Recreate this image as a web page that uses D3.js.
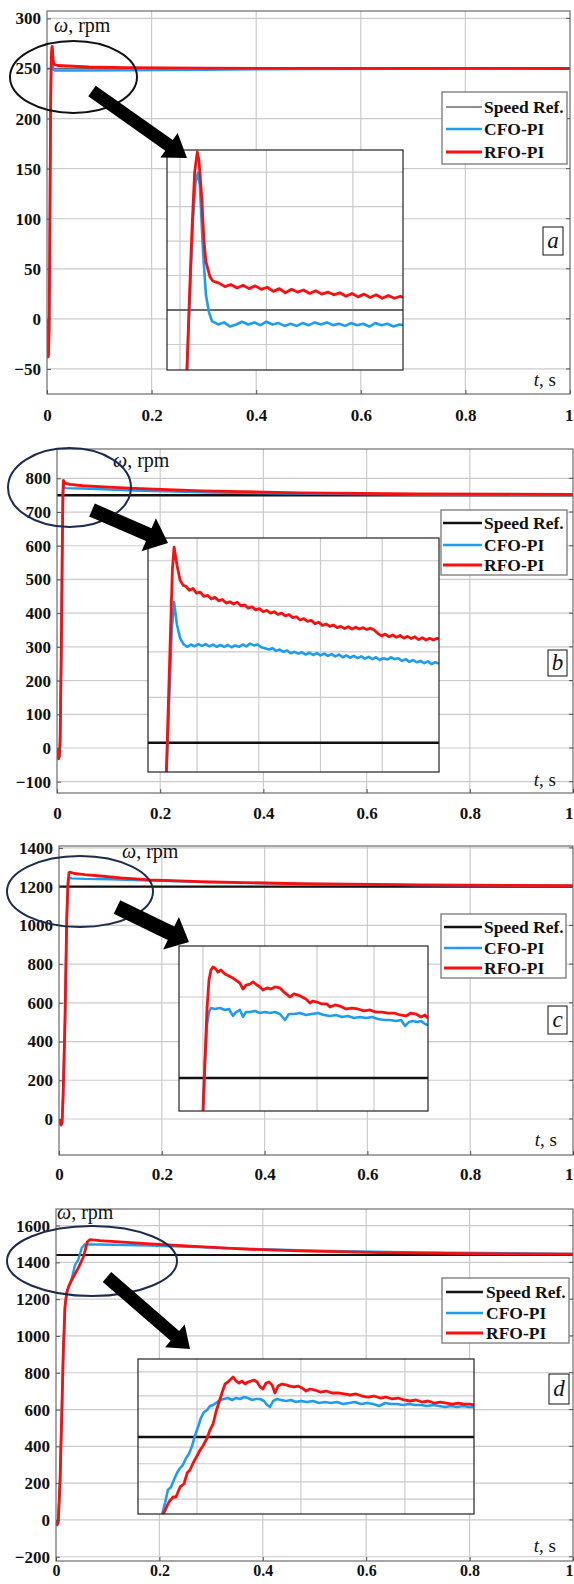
<!DOCTYPE html>
<html>
<head>
<meta charset="utf-8">
<script src="https://cdn.jsdelivr.net/npm/d3@7"></script>
<style>
  body { margin: 0; background: #fff; }
  svg text { font-family: "Liberation Serif", "Times New Roman", serif; }
</style>
</head>
<body>
<div id="viz"></div>
<script>
// Setting up constants
const F_WIDTH = 574;
const F_HEIGHT = 1584;

const TIME_TICKS = [0, 0.2, 0.4, 0.6, 0.8, 1];
const TIME_LABELS = ["0", "0.2", "0.4", "0.6", "0.8", "1"];
const SERIES = ["Speed Ref.", "CFO-PI", "RFO-PI"];
const TAGS = ["a", "b", "c", "d"];

// ---- panel a (250 rpm) ----
const refA = 250;
const yTicksA = [-50, 0, 50, 100, 150, 200, 250, 300];
const cfoA = [[0,0],[0.001,-21],[0.002,-37],[0.003,-34],[0.004,-11],[0.005,56],[0.006,142],[0.007,218],[0.008,252],[0.009,266],[0.010,269],[0.011,258],[0.012,249],[0.014,248],[0.05,248],[0.15,248.3],[0.3,248.8],[0.5,249.4],[0.7,249.8],[1,250]];
const rfoA = [[0,0],[0.001,-22],[0.002,-38],[0.003,-35],[0.004,-12],[0.005,55],[0.006,140],[0.007,215],[0.008,255],[0.009,270],[0.010,272],[0.011,264],[0.012,257],[0.014,254],[0.02,253],[0.04,252.5],[0.08,251.5],[0.15,250.8],[0.3,250.3],[0.5,250.1],[1,250]];
const zoomGridTA = [0.008, 0.018, 0.028];
const zoomGridYA = [245, 255, 260, 265, 270];
const zoomCfoA = [[0.0086,240],[0.0088,241],[0.0092,254],[0.0095,263],[0.0098,268.5],[0.01008,269.9],[0.0103,268.1],[0.01066,258.7],[0.0110,252.2],[0.01135,249.7],[0.0117,248.4],[0.0124,247.9],[0.0131,248.2],[0.0138,247.6],[0.0145,247.9],[0.0152,248.3],[0.0159,247.9],[0.0166,248.2],[0.0173,247.8],[0.0180,248.3],[0.0187,247.9],[0.0194,248.1],[0.0201,247.7],[0.0208,248.0],[0.0215,247.7],[0.0222,248.1],[0.0229,247.8],[0.0236,248.2],[0.0243,247.9],[0.0250,248.2],[0.0257,247.8],[0.0264,248.0],[0.0271,247.7],[0.0278,248.1],[0.0285,247.8],[0.0292,248.0],[0.0299,247.6],[0.0306,248.1],[0.0313,247.8],[0.0320,248.0],[0.0327,247.6],[0.0334,247.9],[0.0338,247.8]];
const zoomRfoA = [[0.0086,240],[0.0088,241],[0.0091,252],[0.0094,262],[0.0097,270],[0.0100,272.9],[0.0102,271.7],[0.01054,265.9],[0.01077,260.1],[0.0110,257.0],[0.01147,254.8],[0.0118,254.2],[0.0125,253.9],[0.0132,253.4],[0.0139,253.7],[0.0146,253.2],[0.0153,253.6],[0.0160,253.1],[0.0167,253.5],[0.0174,253.0],[0.0181,253.3],[0.0188,252.7],[0.0195,253.1],[0.0202,252.5],[0.0209,253.0],[0.0216,252.6],[0.0223,252.9],[0.0230,252.4],[0.0237,252.8],[0.0244,252.3],[0.0251,252.6],[0.0258,252.2],[0.0265,252.5],[0.0272,252.0],[0.0279,252.4],[0.0286,251.9],[0.0293,252.3],[0.0300,251.8],[0.0307,252.2],[0.0314,251.7],[0.0321,252.1],[0.0328,251.7],[0.0335,252.0],[0.0338,251.8]];

// ---- panel b (750 rpm) ----
const refB = 750;
const yTicksB = [-100, 0, 100, 200, 300, 400, 500, 600, 700, 800];
const cfoB = [[0,0],[0.0015,-24],[0.003,-31],[0.0045,-24],[0.006,21],[0.008,250],[0.010,560],[0.0115,740],[0.0125,781],[0.0145,773],[0.017,771],[0.05,770],[0.1,767],[0.15,764],[0.3,758],[0.5,754],[0.7,752],[1,751]];
const rfoB = [[0,0],[0.0015,-25],[0.003,-32],[0.0045,-25],[0.006,20],[0.008,250],[0.010,560],[0.0115,760],[0.0125,794],[0.015,786],[0.025,782],[0.05,778],[0.1,774],[0.15,770],[0.28,763],[0.47,757],[0.7,754],[1,752]];
const zoomGridTB = [0.02, 0.04, 0.06, 0.08];
const zoomGridYB = [760, 770, 780, 790];
const zoomCfoB = [[0.0099,740],[0.0118,775],[0.01255,780.9],[0.0135,775.9],[0.0145,773.0],[0.0157,771.6],[0.0168,771.1],[0.0180,771.6],[0.0192,771.2],[0.0204,771.7],[0.0216,771.3],[0.0228,771.7],[0.0240,771.2],[0.0252,771.6],[0.0264,771.1],[0.0276,771.5],[0.0288,771.1],[0.0300,771.5],[0.0312,771.0],[0.0324,771.4],[0.0336,771.1],[0.0348,771.6],[0.0360,771.2],[0.0372,771.8],[0.0384,771.4],[0.0396,771.6],[0.0408,771.0],[0.0420,770.8],[0.0432,770.5],[0.0444,770.8],[0.0456,770.2],[0.0468,770.5],[0.0480,770.0],[0.0492,770.3],[0.0504,769.7],[0.0516,770.0],[0.0528,769.6],[0.0540,769.9],[0.0552,769.4],[0.0564,769.8],[0.0576,769.3],[0.0588,769.7],[0.0600,769.2],[0.0612,769.6],[0.0624,769.1],[0.0636,769.5],[0.0648,769.0],[0.0660,769.4],[0.0672,768.8],[0.0684,769.2],[0.0696,768.7],[0.0708,769.1],[0.0720,768.6],[0.0732,769.0],[0.0744,768.5],[0.0756,768.9],[0.0768,768.4],[0.0780,768.8],[0.0792,768.2],[0.0804,768.6],[0.0816,768.3],[0.0828,768.8],[0.0840,768.4],[0.0852,768.6],[0.0864,768.0],[0.0876,768.4],[0.0888,767.8],[0.0900,768.2],[0.0912,767.7],[0.0924,768.0],[0.0936,767.5],[0.0948,767.9],[0.0960,767.3],[0.0972,767.7],[0.0984,767.4]];
const zoomRfoB = [[0.0099,740],[0.0112,770],[0.0120,788],[0.01255,793],[0.0135,789],[0.0145,785.7],[0.0155,784.6],[0.0164,784.4],[0.0175,783.5],[0.0187,783.9],[0.0198,782.9],[0.0210,783.1],[0.0222,782.2],[0.0234,782.4],[0.0246,781.6],[0.0258,782.0],[0.0270,781.2],[0.0282,781.5],[0.0294,780.7],[0.0306,781.0],[0.0318,780.5],[0.0330,780.9],[0.0342,780.1],[0.0354,780.3],[0.0366,779.6],[0.0378,779.9],[0.0390,779.2],[0.0402,779.5],[0.0414,778.8],[0.0426,779.1],[0.0438,778.5],[0.0450,778.8],[0.0462,778.2],[0.0474,778.5],[0.0486,777.9],[0.0498,778.2],[0.0510,777.5],[0.0522,777.7],[0.0534,777.0],[0.0546,777.3],[0.0558,776.7],[0.0570,776.9],[0.0582,776.2],[0.0594,776.5],[0.0606,775.8],[0.0618,776.1],[0.0630,775.6],[0.0642,775.9],[0.0654,775.3],[0.0666,775.6],[0.0678,775.1],[0.0690,775.5],[0.0702,775.0],[0.0714,775.4],[0.0726,775.0],[0.0738,775.3],[0.0750,774.9],[0.0762,775.2],[0.0774,774.8],[0.0786,774.0],[0.0798,773.5],[0.0810,773.9],[0.0822,773.3],[0.0834,773.7],[0.0846,773.2],[0.0858,773.6],[0.0870,773.0],[0.0882,773.4],[0.0894,772.9],[0.0906,773.3],[0.0918,772.7],[0.0930,773.1],[0.0942,772.6],[0.0954,773.0],[0.0966,772.6],[0.0978,773.0],[0.0984,772.8]];

// ---- panel c (1200 rpm) ----
const refC = 1200;
const yTicksC = [0, 200, 400, 600, 800, 1000, 1200, 1400];
const cfoC = [[0,0],[0.002,-21],[0.004,-30],[0.006,-17],[0.008,121],[0.0117,512],[0.015,1028],[0.0175,1215],[0.0195,1245],[0.025,1243],[0.05,1240],[0.1,1238],[0.18,1232],[0.3,1222],[0.5,1213],[0.7,1208],[1,1204]];
const rfoC = [[0,0],[0.002,-22],[0.004,-31],[0.006,-18],[0.008,120],[0.0117,511],[0.015,1028],[0.0175,1220],[0.0195,1272],[0.021,1275],[0.03,1268],[0.05,1262],[0.08,1255],[0.12,1245],[0.177,1235],[0.274,1226],[0.47,1215],[0.7,1209],[1,1205]];
const zoomGridTC = [0.025, 0.075, 0.125, 0.175];
const zoomGridYC = [1250];
const zoomCfoC = [[0.025,1178],[0.0268,1211],[0.0285,1232.7],[0.0303,1240.7],[0.032,1243.2],[0.0355,1242.6],[0.0399,1243.2],[0.0443,1242],[0.0478,1242.6],[0.0513,1238.3],[0.054,1240.7],[0.0574,1242],[0.0601,1237.7],[0.0627,1240.7],[0.0662,1240.7],[0.0706,1241.4],[0.075,1240.1],[0.0794,1240.7],[0.0838,1240.1],[0.0881,1240.7],[0.0925,1239.5],[0.0969,1235.8],[0.1004,1239.5],[0.1048,1239.5],[0.1101,1240.1],[0.1153,1238.9],[0.1206,1239.5],[0.1259,1240.1],[0.1311,1238.9],[0.1364,1238.3],[0.1417,1238.9],[0.1469,1237.7],[0.1522,1238.3],[0.1574,1237],[0.1627,1237.7],[0.168,1237],[0.1732,1237.7],[0.1785,1236.4],[0.1838,1235.8],[0.189,1235.8],[0.1943,1235.2],[0.1987,1235.8],[0.2022,1232.1],[0.2057,1234.6],[0.2092,1235.2],[0.2127,1234.6],[0.2162,1235.2],[0.2197,1233.3],[0.2223,1232.7]];
const zoomRfoC = [[0.025,1178],[0.0268,1211.1],[0.0285,1242],[0.0303,1260.5],[0.032,1266.7],[0.0338,1268.5],[0.0355,1267.9],[0.0382,1265.4],[0.0408,1266.7],[0.0443,1264.2],[0.0478,1263],[0.0513,1261.7],[0.0548,1259.9],[0.0574,1258.6],[0.0601,1254.9],[0.0627,1257.4],[0.0662,1258],[0.0689,1259.3],[0.0724,1257.4],[0.075,1256.2],[0.0776,1254.3],[0.0811,1255.6],[0.0846,1254.9],[0.0881,1256.2],[0.0925,1255.6],[0.0969,1252.5],[0.1013,1250],[0.1048,1251.9],[0.1083,1251.2],[0.1118,1250],[0.1153,1248.8],[0.1188,1246.3],[0.1215,1247.5],[0.125,1246.9],[0.1294,1245.7],[0.1337,1245.7],[0.1364,1243.8],[0.1408,1245.1],[0.1451,1244.4],[0.1504,1242.6],[0.1557,1243.2],[0.1609,1242.6],[0.1662,1241.4],[0.1715,1242],[0.1767,1240.7],[0.182,1240.7],[0.1873,1240.1],[0.1925,1240.1],[0.1978,1238.9],[0.203,1238.3],[0.2074,1240.1],[0.2118,1239.5],[0.2162,1237.7],[0.2197,1238.9],[0.2223,1237]];

// ---- panel d (1440 rpm) ----
const refD = 1440;
const yTicksD = [-200, 0, 200, 400, 600, 800, 1000, 1200, 1400, 1600];
const cfoD = [[0,0],[0.002,-27],[0.004,-15],[0.0045,0],[0.0077,201],[0.011,560],[0.0142,924],[0.0174,1158],[0.0206,1234],[0.025,1272],[0.0303,1310],[0.0368,1386],[0.043,1413],[0.0497,1478],[0.056,1498],[0.085,1497],[0.182,1492],[0.3,1480],[0.5,1464],[0.7,1454],[1,1446]];
const rfoD = [[0,0],[0.002,-27],[0.004,-15],[0.0045,0],[0.0077,201],[0.011,560],[0.0142,924],[0.0174,1158],[0.0206,1234],[0.025,1272],[0.0303,1304],[0.0432,1370],[0.0529,1429],[0.0606,1512],[0.0658,1523],[0.085,1518],[0.182,1500],[0.278,1485],[0.375,1471],[0.472,1462],[0.627,1453],[0.8,1448],[1,1444]];
const zoomGridTD = [0.05, 0.09, 0.13];
const zoomGridYD = [1354, 1378, 1403, 1426, 1479, 1497, 1530];
const zoomCfoD = [[0.0365,1332],[0.0377,1348.7],[0.0388,1366.7],[0.04,1370.9],[0.0411,1380.5],[0.0423,1390.2],[0.0435,1397.1],[0.0446,1401.3],[0.0458,1411],[0.0469,1416.5],[0.0481,1427.6],[0.0492,1441.4],[0.0504,1453.8],[0.0515,1466.3],[0.0527,1474.6],[0.0539,1477.3],[0.055,1482.9],[0.0562,1484.3],[0.0573,1487],[0.0589,1491.2],[0.0604,1492.6],[0.0619,1493.9],[0.0635,1491.2],[0.065,1493.9],[0.0666,1492.6],[0.0681,1495.3],[0.0696,1493.9],[0.0712,1491.2],[0.0727,1492.6],[0.0743,1492.6],[0.0758,1489.8],[0.077,1484.3],[0.0781,1481.5],[0.0793,1489.8],[0.0808,1492.6],[0.0823,1491.2],[0.0843,1489.8],[0.0862,1491.2],[0.0881,1488.4],[0.09,1489.8],[0.0924,1488.4],[0.0947,1489.8],[0.097,1487],[0.0993,1488.4],[0.1016,1487],[0.1039,1488.4],[0.1062,1485.6],[0.1085,1487],[0.1108,1488.4],[0.1131,1485.6],[0.1155,1487],[0.1178,1485.6],[0.1201,1482.9],[0.1224,1487],[0.1247,1485.6],[0.127,1485.6],[0.1293,1484.3],[0.1316,1485.6],[0.1339,1484.3],[0.1362,1484.3],[0.1386,1482.9],[0.1409,1484.3],[0.1432,1482.9],[0.1455,1481.5],[0.1478,1482.9],[0.1501,1481.5],[0.1524,1482.9],[0.1547,1481.5],[0.1566,1481.5]];
const zoomRfoD = [[0.0369,1332],[0.0381,1341.8],[0.0392,1350.1],[0.0408,1357],[0.0419,1357],[0.0435,1370.9],[0.045,1375],[0.0462,1390.2],[0.0473,1394.4],[0.0485,1404],[0.05,1413.7],[0.0512,1422],[0.0523,1427.6],[0.0539,1438.6],[0.055,1449.7],[0.0562,1458],[0.0573,1474.6],[0.0585,1488.4],[0.0596,1500.9],[0.0608,1513.3],[0.0619,1516.1],[0.0631,1520.2],[0.0639,1523],[0.065,1517.4],[0.0662,1514.7],[0.0673,1517.4],[0.0685,1513.3],[0.0696,1516.1],[0.0708,1517.4],[0.0719,1518.8],[0.0731,1516.1],[0.0743,1509.2],[0.0754,1506.4],[0.0766,1514.7],[0.0777,1516.1],[0.0789,1512],[0.08,1500.9],[0.0812,1510.5],[0.0827,1513.3],[0.0843,1512],[0.0858,1510.5],[0.0873,1509.2],[0.0889,1510.5],[0.0904,1507.8],[0.092,1503.6],[0.0935,1506.4],[0.0954,1505],[0.0974,1502.2],[0.0997,1503.6],[0.102,1500.9],[0.1043,1500.9],[0.1066,1499.5],[0.1089,1498.1],[0.1112,1499.5],[0.1135,1496.7],[0.1158,1495.3],[0.1181,1496.7],[0.1205,1493.9],[0.1228,1495.3],[0.1251,1492.6],[0.1274,1493.9],[0.1297,1491.2],[0.132,1489.8],[0.1343,1491.2],[0.1366,1488.4],[0.1389,1489.8],[0.1412,1487],[0.1436,1488.4],[0.1459,1487],[0.1482,1485.6],[0.1505,1487],[0.1528,1485.6],[0.1551,1485.6],[0.1566,1484.3]];

// colours
const RED = "#f81010";
const BLUE = "#1e9cf2";
const GRID = "#cbcbcb";
const NAVY = "#1c2b4f";

// layout of each panel (pixel positions only)
const PANELS = [
  { tag: TAGS[0], ref: refA, yTicks: yTicksA, cfo: cfoA, rfo: rfoA, refColor: "#6a6a6a", refWidth: 1.6,
    plot: {x0: 47, x1: 570, y0: 11, y1: 394}, yDomain: [-75, 307.4], xPad: 15, xFont: 17,
    ellipse: {cx: 73.5, cy: 77, rx: 63.5, ry: 36, color: "#111"},
    arrow: {from: [92, 91], to: [187, 158], shaft: 13, headW: 30, headL: 22},
    zoom: {x0: 167, x1: 403, y0: 150, y1: 370, xDomain: [0.0065, 0.0338], yDomain: [241.3, 273.2],
           gridT: zoomGridTA, gridY: zoomGridYA, cfo: zoomCfoA, rfo: zoomRfoA},
    legend: {x0: 442, y0: 92, w: 125, h: 72, rows: [107, 129, 152], l0: 446, l1: 482, tx: 484},
    box: {x: 543, y: 227, w: 20, h: 28}, tLab: {x: 556, y: 386}, wLab: {x: 54, y: 32} },
  { tag: TAGS[1], ref: refB, yTicks: yTicksB, cfo: cfoB, rfo: rfoB, refColor: "#111", refWidth: 2.5,
    plot: {x0: 57, x1: 573, y0: 449, y1: 793}, yDomain: [-133.5, 887], xPad: 14, xFont: 17,
    ellipse: {cx: 69.5, cy: 487.5, rx: 61.5, ry: 39.5, color: NAVY},
    arrow: {from: [92, 510], to: [168, 543], shaft: 14, headW: 36, headL: 21},
    zoom: {x0: 148, x1: 439, y0: 538, y1: 772, xDomain: [0.0041, 0.0984], yDomain: [743.6, 795],
           gridT: zoomGridTB, gridY: zoomGridYB, cfo: zoomCfoB, rfo: zoomRfoB},
    legend: {x0: 441, y0: 510, w: 126, h: 65, rows: [523, 545, 565], l0: 443, l1: 482, tx: 484},
    box: {x: 548, y: 650, w: 19, h: 26}, tLab: {x: 556, y: 786}, wLab: {x: 113, y: 467} },
  { tag: TAGS[2], ref: refC, yTicks: yTicksC, cfo: cfoC, rfo: rfoC, refColor: "#111", refWidth: 2.2,
    plot: {x0: 59, x1: 573, y0: 846, y1: 1155}, yDomain: [-186, 1410], xPad: 13, xFont: 17,
    ellipse: {cx: 80, cy: 891.5, rx: 73, ry: 35.5, color: NAVY},
    arrow: {from: [117, 907], to: [189, 942], shaft: 15, headW: 36, headL: 20},
    zoom: {x0: 179, x1: 428, y0: 946, y1: 1111, xDomain: [0.004, 0.2223], yDomain: [1179.6, 1281.5],
           gridT: zoomGridTC, gridY: zoomGridYC, cfo: zoomCfoC, rfo: zoomRfoC},
    legend: {x0: 441, y0: 914, w: 125, h: 64, rows: [927, 948, 968], l0: 444, l1: 482, tx: 484},
    box: {x: 548, y: 1006, w: 19, h: 28}, tLab: {x: 557, y: 1146}, wLab: {x: 122, y: 858} },
  { tag: TAGS[3], ref: refD, yTicks: yTicksD, cfo: cfoD, rfo: rfoD, refColor: "#111", refWidth: 2.2,
    plot: {x0: 56, x1: 573, y0: 1209, y1: 1561}, yDomain: [-223, 1690], xPad: 4, xFont: 16,
    ellipse: {cx: 92, cy: 1261, rx: 85, ry: 35, color: NAVY},
    arrow: {from: [107, 1277], to: [190, 1349], shaft: 13, headW: 30, headL: 20},
    zoom: {x0: 138, x1: 474, y0: 1359, y1: 1514, xDomain: [0.0273, 0.1566], yDomain: [1333.5, 1547.9],
           gridT: zoomGridTD, gridY: zoomGridYD, cfo: zoomCfoD, rfo: zoomRfoD},
    legend: {x0: 442, y0: 1278, w: 127, h: 65, rows: [1292, 1313, 1333], l0: 446, l1: 483, tx: 486},
    box: {x: 549, y: 1374, w: 20, h: 30}, tLab: {x: 556, y: 1552}, wLab: {x: 57, y: 1219} }
];

const FRAME = d3.select("#viz")
  .append("svg")
    .attr("width", F_WIDTH)
    .attr("height", F_HEIGHT);

FRAME.append("rect").attr("width", F_WIDTH).attr("height", F_HEIGHT).attr("fill", "#fff");

const defs = FRAME.append("defs");

// arrow outline from a tail point to a tip
function arrowPoints(a) {
  const [x0, y0] = a.from, [x1, y1] = a.to;
  const len = Math.hypot(x1 - x0, y1 - y0);
  const ux = (x1 - x0) / len, uy = (y1 - y0) / len;
  const px = -uy, py = ux;
  const bx = x1 - ux * a.headL, by = y1 - uy * a.headL;
  const s = a.shaft / 2, h = a.headW / 2;
  return [[x0 + px * s, y0 + py * s], [bx + px * s, by + py * s], [bx + px * h, by + py * h],
          [x1, y1], [bx - px * h, by - py * h], [bx - px * s, by - py * s], [x0 - px * s, y0 - py * s]];
}

function drawPanel(p, i) {
  const P = p.plot;
  const X_SCALE = d3.scaleLinear().domain([0, 1]).range([P.x0, P.x1]);
  const Y_SCALE = d3.scaleLinear().domain(p.yDomain).range([P.y1, P.y0]);
  const g = FRAME.append("g");

  // grid
  g.append("g").selectAll("line").data(TIME_TICKS.slice(1, -1)).join("line")
    .attr("x1", d => X_SCALE(d)).attr("x2", d => X_SCALE(d))
    .attr("y1", P.y0).attr("y2", P.y1)
    .attr("stroke", GRID).attr("stroke-width", 1.2);
  g.append("g").selectAll("line").data(p.yTicks).join("line")
    .attr("x1", P.x0).attr("x2", P.x1)
    .attr("y1", d => Y_SCALE(d)).attr("y2", d => Y_SCALE(d))
    .attr("stroke", GRID).attr("stroke-width", 1.2);

  // clipped traces
  const clipId = "clip" + i;
  defs.append("clipPath").attr("id", clipId).append("rect")
    .attr("x", P.x0).attr("y", P.y0).attr("width", P.x1 - P.x0).attr("height", P.y1 - P.y0);
  const lines = g.append("g").attr("clip-path", `url(#${clipId})`);
  const line = d3.line().x(d => X_SCALE(d[0])).y(d => Y_SCALE(d[1]));

  lines.append("line")
    .attr("x1", X_SCALE(0)).attr("x2", X_SCALE(1))
    .attr("y1", Y_SCALE(p.ref)).attr("y2", Y_SCALE(p.ref))
    .attr("stroke", p.refColor).attr("stroke-width", p.refWidth);
  lines.append("path").datum(p.cfo).attr("d", line)
    .attr("fill", "none").attr("stroke", BLUE).attr("stroke-width", 2.4).attr("stroke-linejoin", "round");
  lines.append("path").datum(p.rfo).attr("d", line)
    .attr("fill", "none").attr("stroke", RED).attr("stroke-width", 2.8).attr("stroke-linejoin", "round");

  // border
  g.append("rect")
    .attr("x", P.x0).attr("y", P.y0).attr("width", P.x1 - P.x0).attr("height", P.y1 - P.y0)
    .attr("fill", "none").attr("stroke", "#6c6c6c").attr("stroke-width", 1.2);

  // axes
  const xAxis = g.append("g")
    .attr("transform", `translate(0,${P.y1})`)
    .call(d3.axisBottom(X_SCALE).tickValues(TIME_TICKS).tickFormat((d, k) => TIME_LABELS[k])
      .tickSizeInner(-4).tickSizeOuter(0).tickPadding(p.xPad));
  const yAxis = g.append("g")
    .attr("transform", `translate(${P.x0},0)`)
    .call(d3.axisLeft(Y_SCALE).tickValues(p.yTicks).tickFormat(d3.format("d"))
      .tickSizeInner(-4).tickSizeOuter(0).tickPadding(6));
  [xAxis, yAxis].forEach(ax => {
    ax.select(".domain").remove();
    ax.selectAll(".tick line").attr("stroke", "#555");
    ax.selectAll("text")
      .attr("fill", "#111")
      .style("font-size", "17px")
      .style("font-weight", "bold")
      .style("font-family", "'Liberation Serif', 'Times New Roman', serif");
  });
  xAxis.selectAll(".tick text").style("font-size", p.xFont + "px");
  // last time label sits against the page edge
  xAxis.selectAll(".tick text").filter(d => d === 1).attr("text-anchor", "end").attr("x", F_WIDTH - P.x1 - 1);

  // right-side ticks
  g.append("g").selectAll("line").data(p.yTicks).join("line")
    .attr("x1", P.x1 - 4).attr("x2", P.x1)
    .attr("y1", d => Y_SCALE(d)).attr("y2", d => Y_SCALE(d))
    .attr("stroke", "#555");

  // axis captions
  const w = g.append("text").attr("x", p.wLab.x).attr("y", p.wLab.y)
    .style("font-size", "20px").attr("fill", "#111");
  w.append("tspan").style("font-style", "italic").text("ω");
  w.append("tspan").text(", rpm");
  const t = g.append("text").attr("x", p.tLab.x).attr("y", p.tLab.y)
    .attr("text-anchor", "end").style("font-size", "19px").attr("fill", "#111");
  t.append("tspan").style("font-style", "italic").text("t");
  t.append("tspan").text(", s");

  // ellipse
  g.append("ellipse")
    .attr("cx", p.ellipse.cx).attr("cy", p.ellipse.cy)
    .attr("rx", p.ellipse.rx).attr("ry", p.ellipse.ry)
    .attr("fill", "none").attr("stroke", p.ellipse.color).attr("stroke-width", 2);

  // legend
  const L = p.legend;
  g.append("rect").attr("x", L.x0).attr("y", L.y0).attr("width", L.w).attr("height", L.h)
    .attr("fill", "#fff").attr("stroke", "#808080").attr("stroke-width", 1.4);
  const legColors = [p.refColor, BLUE, RED];
  const legWidths = [i === 0 ? 1.6 : 2.6, 2.4, 2.8];
  SERIES.forEach((s, k) => {
    g.append("line").attr("x1", L.l0).attr("x2", L.l1)
      .attr("y1", L.rows[k]).attr("y2", L.rows[k])
      .attr("stroke", legColors[k]).attr("stroke-width", legWidths[k]);
    g.append("text").attr("x", L.tx).attr("y", L.rows[k] + 6)
      .style("font-size", "17.5px").style("font-weight", "bold").attr("fill", "#111")
      .text(s);
  });

  // panel letter
  g.append("rect").attr("x", p.box.x).attr("y", p.box.y).attr("width", p.box.w).attr("height", p.box.h)
    .attr("fill", "#fff").attr("stroke", "#111").attr("stroke-width", 1);
  g.append("text").attr("x", p.box.x + p.box.w / 2).attr("y", p.box.y + p.box.h / 2 + 7)
    .attr("text-anchor", "middle").style("font-size", "23px").style("font-style", "italic")
    .attr("fill", "#111").text(p.tag);

  // zoomed inset
  const Z = p.zoom;
  const ZX = d3.scaleLinear().domain(Z.xDomain).range([Z.x0, Z.x1]);
  const ZY = d3.scaleLinear().domain(Z.yDomain).range([Z.y1, Z.y0]);
  const zg = g.append("g");
  zg.append("rect").attr("x", Z.x0).attr("y", Z.y0).attr("width", Z.x1 - Z.x0).attr("height", Z.y1 - Z.y0)
    .attr("fill", "#fff");
  zg.append("g").selectAll("line").data(Z.gridT).join("line")
    .attr("x1", d => ZX(d)).attr("x2", d => ZX(d)).attr("y1", Z.y0).attr("y2", Z.y1)
    .attr("stroke", GRID).attr("stroke-width", 1.2);
  zg.append("g").selectAll("line").data(Z.gridY).join("line")
    .attr("x1", Z.x0).attr("x2", Z.x1).attr("y1", d => ZY(d)).attr("y2", d => ZY(d))
    .attr("stroke", GRID).attr("stroke-width", 1.2);
  const zclip = "zclip" + i;
  defs.append("clipPath").attr("id", zclip).append("rect")
    .attr("x", Z.x0).attr("y", Z.y0).attr("width", Z.x1 - Z.x0).attr("height", Z.y1 - Z.y0);
  const zl = zg.append("g").attr("clip-path", `url(#${zclip})`);
  const zline = d3.line().x(d => ZX(d[0])).y(d => ZY(d[1]));
  zl.append("line").attr("x1", Z.x0).attr("x2", Z.x1)
    .attr("y1", ZY(p.ref)).attr("y2", ZY(p.ref))
    .attr("stroke", p.refColor).attr("stroke-width", i === 0 ? 2 : 2.5);
  zl.append("path").datum(Z.cfo).attr("d", zline)
    .attr("fill", "none").attr("stroke", BLUE).attr("stroke-width", 2.6).attr("stroke-linejoin", "round");
  zl.append("path").datum(Z.rfo).attr("d", zline)
    .attr("fill", "none").attr("stroke", RED).attr("stroke-width", 2.8).attr("stroke-linejoin", "round");
  zg.append("rect").attr("x", Z.x0).attr("y", Z.y0).attr("width", Z.x1 - Z.x0).attr("height", Z.y1 - Z.y0)
    .attr("fill", "none").attr("stroke", "#222").attr("stroke-width", 1.2);

  // arrow
  g.append("path")
    .attr("d", d3.line()(arrowPoints(p.arrow)) + "Z")
    .attr("fill", "#000");
}

PANELS.forEach(drawPanel);
</script>
</body>
</html>
